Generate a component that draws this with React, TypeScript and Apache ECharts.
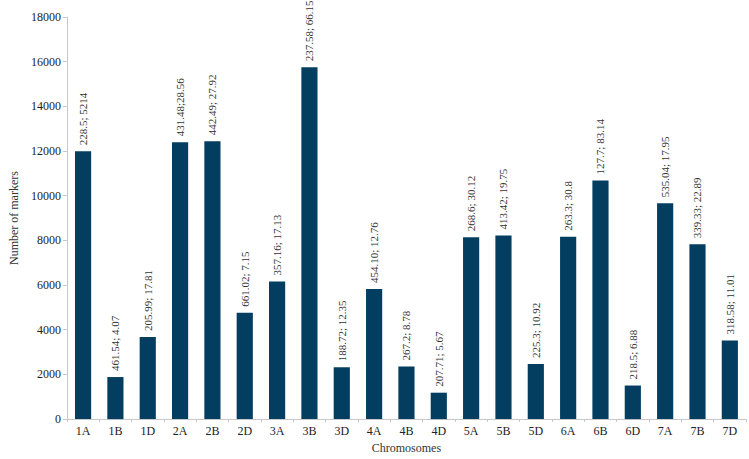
import React, { useEffect, useRef } from "react";
import * as echarts from "echarts";

const categories = ["1A","1B","1D","2A","2B","2D","3A","3B","3D","4A","4B","4D","5A","5B","5D","6A","6B","6D","7A","7B","7D"];
const markers = [11990, 1883, 3680, 12390, 12440, 4760, 6160, 15750, 2320, 5825, 2350, 1182, 8146, 8219, 2467, 8160, 10686, 1503, 9664, 7825, 3518];
const barLabels = ["228.5; 5214","461.54; 4.07","205.99; 17.81","431.48;28.56","442.49; 27.92","661.02; 7.15","357.16; 17.13","237.58; 66.15","188.72; 12.35","454.10; 12.76","267.2; 8.78","207.71; 5.67","268.6; 30.12","413.42; 19.75","225.3; 10.92","263.3; 30.8","127.7; 83.14","218.5; 6.88","535.04; 17.95","339.33; 22.89","318.58; 11.01"];

export default function App() {
  const ref = useRef<HTMLDivElement>(null);
  useEffect(() => {
    if (!ref.current) return;
    const chart = echarts.init(ref.current, undefined, { renderer: "svg" });
    const serif = "Liberation Serif";
    chart.setOption({
      animation: false,
      grid: { left: 52, right: 3, top: 17, bottom: 31 },
      xAxis: {
        type: "category",
        data: categories,
        name: "Chromosomes",
        nameLocation: "middle",
        nameGap: 22,
        nameTextStyle: { fontFamily: serif, fontSize: 12, color: "#333" },
        axisLine: { lineStyle: { color: "#c8c8c8" } },
        axisTick: { show: true, length: 3, lineStyle: { color: "#c8c8c8" } },
        axisLabel: { fontFamily: serif, fontSize: 12, color: "#222", margin: 6 },
      },
      yAxis: {
        type: "value",
        min: 0,
        max: 18000,
        interval: 2000,
        name: "Number of markers",
        nameLocation: "middle",
        nameGap: 40,
        nameTextStyle: { fontFamily: serif, fontSize: 12, color: "#333" },
        axisLine: { show: true, lineStyle: { color: "#c8c8c8" } },
        axisTick: { show: true, length: 4, lineStyle: { color: "#c8c8c8" } },
        splitLine: { show: false },
        axisLabel: { fontFamily: serif, fontSize: 12, color: "#222", margin: 6, formatter: (v: number) => String(v) },
      },
      series: [
        {
          type: "bar",
          data: markers,
          barWidth: "50%",
          itemStyle: { color: "#033e60" },
          label: {
            show: true,
            position: "top",
            rotate: 90,
            align: "left",
            verticalAlign: "middle",
            distance: 6,
            fontFamily: serif,
            fontSize: 11,
            color: "#333",
            formatter: (p: any) => barLabels[p.dataIndex],
          },
        },
      ],
    });
    return () => chart.dispose();
  }, []);
  return <div ref={ref} style={{ width: 749, height: 459, position: "absolute", left: 0, top: 0 }} />;
}
